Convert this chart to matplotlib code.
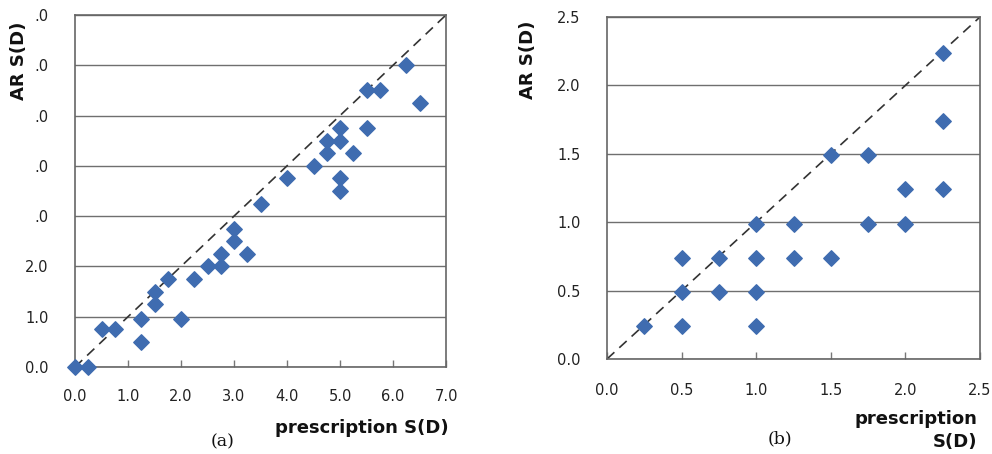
import numpy as np
import matplotlib
matplotlib.use("Agg")
import matplotlib.pyplot as plt

# panel (a)
a_presc = [0.0, 0.25, 0.5, 0.75, 1.25, 1.25, 1.5, 1.5, 1.75, 2.0, 2.25, 2.5, 2.75, 2.75,
           3.0, 3.0, 3.25, 3.5, 4.0, 4.5, 4.75, 4.75, 5.0, 5.0, 5.0, 5.0, 5.25, 5.5, 5.5,
           5.75, 6.25, 6.5]
a_ar = [0.0, 0.0, 0.75, 0.75, 0.95, 0.5, 1.5, 1.25, 1.75, 0.95, 1.75, 2.0, 2.0, 2.25,
        2.75, 2.5, 2.25, 3.25, 3.75, 4.0, 4.5, 4.25, 4.75, 4.5, 3.75, 3.5, 4.25, 4.75, 5.5,
        5.5, 6.0, 5.25]
a_ticks = [0, 1, 2, 3, 4, 5, 6, 7]
a_xlabels = ["0.0", "1.0", "2.0", "3.0", "4.0", "5.0", "6.0", "7.0"]
a_ylabels = ["0.0", "1.0", "2.0", ".0", ".0", ".0", ".0", ".0"]

# panel (b)
b_presc = [0.25, 0.5, 1.0, 0.5, 0.75, 1.0, 0.5, 0.75, 1.0, 1.25, 1.5, 1.0, 1.25, 1.75,
           2.0, 2.0, 2.25, 1.5, 1.75, 2.25, 2.25]
b_ar = [0.24, 0.24, 0.24, 0.49, 0.49, 0.49, 0.74, 0.74, 0.74, 0.74, 0.74, 0.99, 0.99, 0.99,
        0.99, 1.24, 1.24, 1.49, 1.49, 1.74, 2.24]
b_ticks = [0.0, 0.5, 1.0, 1.5, 2.0, 2.5]
b_labels = ["0.0", "0.5", "1.0", "1.5", "2.0", "2.5"]

W, H = 992, 454
fig = plt.figure(figsize=(W / 100, H / 100), dpi=100)

blue = "#3f6cb0"
txt = "#222222"


def setup(ax, lim, ticks, xlabels, ylabels, xpad):
    ax.set_xlim(0, lim)
    ax.set_ylim(0, lim)
    ax.set_xticks(ticks)
    ax.set_yticks(ticks)
    ax.set_xticklabels(xlabels, fontsize=10.5, color=txt)
    ax.set_yticklabels(ylabels, fontsize=10.5, color=txt)
    ax.tick_params(axis="x", direction="in", length=5, width=1, color="#777777", pad=xpad)
    ax.tick_params(axis="y", length=0, pad=19)
    ax.grid(axis="y", color="#6f6f6f", linewidth=1)
    ax.set_axisbelow(True)
    for s in ax.spines.values():
        s.set_color("#666666")
        s.set_linewidth(1.2)
    ax.plot([0, lim], [0, lim], ls=(0, (6, 4)), color="#333333", lw=1.2, zorder=2)


ax1 = fig.add_axes([75 / W, 1 - 367 / H, 371 / W, 352 / H])
setup(ax1, 7, a_ticks, a_xlabels, a_ylabels, 16)
ax1.scatter(a_presc, a_ar, marker="D", s=62, color=blue, zorder=3, clip_on=False)

ax2 = fig.add_axes([607 / W, 1 - 359 / H, 373 / W, 342 / H])
setup(ax2, 2.5, b_ticks, b_labels, b_labels, 17)
ax2.scatter(b_presc, b_ar, marker="D", s=62, color=blue, zorder=3, clip_on=False)

bold = dict(fontsize=13, fontweight="bold", color="#111111")
fig.text(19 / W, 1 - 61 / H, "AR S(D)", rotation=90, ha="center", va="center", **bold)
fig.text(528 / W, 1 - 60 / H, "AR S(D)", rotation=90, ha="center", va="center", **bold)
fig.text(449 / W, 1 - 428 / H, "prescription S(D)", ha="right", va="center", **bold)
fig.text(977 / W, 1 - 419 / H, "prescription", ha="right", va="center", **bold)
fig.text(977 / W, 1 - 442 / H, "S(D)", ha="right", va="center", **bold)
fig.text(223 / W, 1 - 442 / H, "(a)", ha="center", va="center", fontsize=12.5,
         family="DejaVu Serif", color="#111111")
fig.text(780 / W, 1 - 439 / H, "(b)", ha="center", va="center", fontsize=12.5,
         family="DejaVu Serif", color="#111111")

fig.savefig("out.png", dpi=100)
